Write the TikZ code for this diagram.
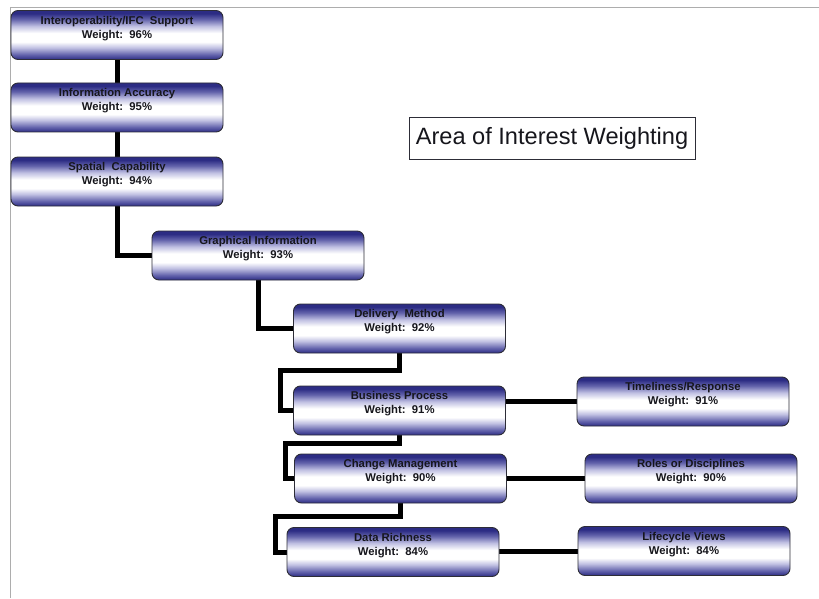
\documentclass[tikz,border=0pt]{standalone}
\usepackage{fontspec}
\setmainfont{Liberation Sans}
\usetikzlibrary{backgrounds}

\definecolor{navy}{RGB}{44,44,132}
\definecolor{midblue}{RGB}{100,100,172}
\definecolor{paleblue}{RGB}{192,192,226}
\definecolor{edge}{RGB}{45,45,55}
\definecolor{inkdark}{RGB}{22,22,28}

% glossy tube fill: dark navy at the rims, white just below the middle
\pgfdeclareverticalshading{tubefill}{100bp}{%
  color(0bp)=(navy); color(25bp)=(navy); color(30bp)=(midblue);
  color(37bp)=(paleblue); color(43bp)=(white); color(52bp)=(white);
  color(59bp)=(paleblue); color(66bp)=(midblue); color(72bp)=(navy);
  color(75bp)=(navy); color(100bp)=(navy)}

\tikzset{
  tube/.style={shade, shading=tubefill, draw=edge, line width=0.9pt,
    rounded corners=7pt, minimum width=212pt, minimum height=49pt,
    inner sep=0pt,
    label={[tubetext]north:{#1}}},
  tubetext/.style={anchor=north, yshift=-2.5pt, align=center,
    text=inkdark, font=\bfseries\fontsize{11.3}{13.8}\selectfont},
  link/.style={line width=5pt, black, line join=miter},
  frame/.style={draw=black!32, line width=1pt},
}

\begin{document}
\begin{tikzpicture}[x=1pt,y=-1pt]
\useasboundingbox (0,0) rectangle (819,599);

% main chain
\node[tube={Interoperability/IFC\ \ Support\\Weight:\ \ 96\%}] (ifc) at (117,35) {};
\node[tube={Information Accuracy\\Weight:\ \ 95\%}] (acc) at (117,107.5) {};
\node[tube={Spatial\ \ Capability\\Weight:\ \ 94\%}] (spa) at (117,181.5) {};
\node[tube={Graphical Information\\Weight:\ \ 93\%}] (gra) at (258,255.5) {};
\node[tube={Delivery\ \ Method\\Weight:\ \ 92\%}] (del) at (399.5,328.5) {};
\node[tube={Business Process\\Weight:\ \ 91\%}] (bus) at (399.5,410.5) {};
\node[tube={Change Management\\Weight:\ \ 90\%}] (chg) at (400.5,478.5) {};
\node[tube={Data Richness\\Weight:\ \ 84\%}] (dat) at (393,552) {};

% side branches
\node[tube={Timeliness/Response\\Weight:\ \ 91\%}] (tim) at (683,401.5) {};
\node[tube={Roles or Disciplines\\Weight:\ \ 90\%}] (rol) at (691,478.5) {};
\node[tube={Lifecycle Views\\Weight:\ \ 84\%}] (lif) at (684,551) {};

% title
\node[draw=edge, line width=1pt, minimum width=286pt, minimum height=41pt,
      inner sep=0pt, font=\fontsize{23.6}{26}\selectfont, text=inkdark]
      (title) at (552,138.5) {Area of Interest Weighting};

\begin{scope}[on background layer]
  \draw[frame] (819,8) -- (10,8) -- (10,598);
  \draw[link] (ifc.south) -- (acc.north);
  \draw[link] (acc.south) -- (spa.north);
  \draw[link] (spa.south) |- (gra.west);
  \draw[link] (gra.south) |- (del.west);
  \draw[link] (del.south) -- ++(0,17.5) -| ([xshift=-13pt]bus.west) -- (bus.west);
  \draw[link] (bus.south) -- ++(0,8.5) -| ([xshift=-9pt]chg.west) -- (chg.west);
  \draw[link] (chg.south) -- ++(0,13) -| ([xshift=-11pt]dat.west) -- (dat.west);
  \draw[link] (tim.west) -- (tim.west -| bus.east);
  \draw[link] (rol.west) -- (rol.west -| chg.east);
  \draw[link] (lif.west) -- (lif.west -| dat.east);
\end{scope}
\end{tikzpicture}
\end{document}
